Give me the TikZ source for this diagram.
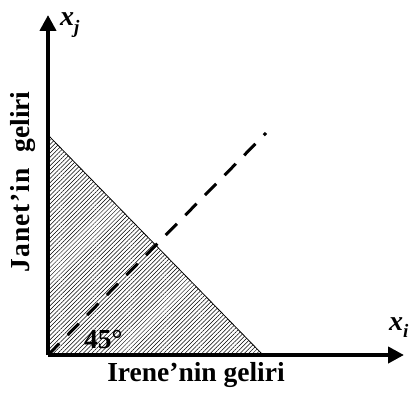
\documentclass[tikz,border=0pt]{standalone}
\usepackage{fontspec}
\setmainfont{Liberation Serif}
\usetikzlibrary{arrows.meta,patterns.meta}
\newcommand{\varlbl}[2]{{\bfseries\itshape #1}\raisebox{-0.28em}{\fontsize{19}{20}\selectfont\bfseries\itshape #2}}
\begin{document}
\begin{tikzpicture}[x=1pt,y=1pt,
  axis/.style={line width=4pt,-{Triangle[length=16pt,width=16pt]}},
  lbl/.style={font=\fontsize{27.5}{30}\selectfont\bfseries,inner sep=0pt},
  varl/.style={font=\fontsize{28}{30}\selectfont,inner sep=0pt},
  hatch/.style={pattern={Lines[angle=45,distance=3pt,line width=0.5pt]}},
  diag/.style={line width=3pt,dash pattern=on 16pt off 12pt}]
\useasboundingbox (0,0) rectangle (411,394);
\coordinate (O) at (48,39);
\coordinate (Ytip) at (48,379);
\coordinate (Xtip) at (404,39);
\coordinate (T) at (48,259);
\coordinate (R) at (263,39);
\coordinate (D) at (266,261);
\fill[hatch] (O) -- (T) -- (R) -- cycle;
\draw[line width=0.8pt] (T) -- (R);
\draw[diag] (O) -- (D);
\draw[axis] (O) -- (Ytip);
\draw[axis] (O) -- (Xtip);
\node[varl,anchor=base west] (xj) at (60,368) {\varlbl{x}{j}};
\node[varl,anchor=base west] (xi) at (389,64) {\varlbl{x}{i}};
\node[lbl] (irene) at (196,19) {Irene’nin geliri};
\node[lbl,rotate=90,font=\fontsize{27.5}{30}\selectfont\bfseries] (janet) at (23,212) {{\addfontfeatures{LetterSpace=4}Janet’in}\hspace{16pt}geliri};
\node[lbl,anchor=west] (ang) at (84,55) {45°};
\end{tikzpicture}
\end{document}
